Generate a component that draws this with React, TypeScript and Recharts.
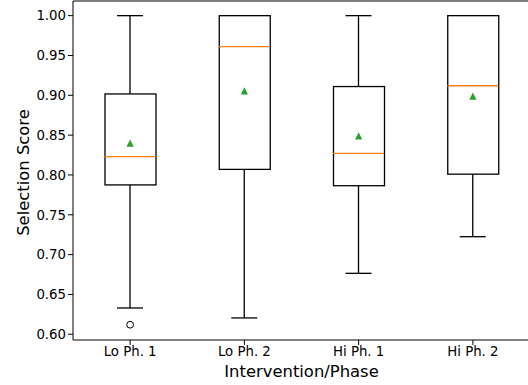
import React from "react";
import { ComposedChart, Bar, Scatter, XAxis, YAxis, Label } from "recharts";

// five-number summaries
const categories = ["Lo Ph. 1", "Lo Ph. 2", "Hi Ph. 1", "Hi Ph. 2"];
const whiskerLow = [0.633, 0.6205, 0.6765, 0.7225];
const q1 = [0.7875, 0.807, 0.7865, 0.801];
const medians = [0.823, 0.961, 0.827, 0.912];
const q3 = [0.9017, 1.0, 0.911, 1.0];
const whiskerHigh = [1.0, 1.0, 1.0, 1.0];
const means = [0.84, 0.9055, 0.849, 0.899];
const outliers: (number | null)[] = [0.612, null, null, null];
const yTicks = [0.6, 0.65, 0.7, 0.75, 0.8, 0.85, 0.9, 0.95, 1.0];

const data = categories.map((name, i) => ({
    name,
    low: whiskerLow[i],
    q1: q1[i],
    median: medians[i],
    q3: q3[i],
    high: whiskerHigh[i],
    mean: means[i],
    outlier: outliers[i],
}));

const BOX_W = 51;
const CAP_W = 26;
const INK = "#000";
const LW = 1.3;
const FONT = "DejaVu Sans, sans-serif";

function WhiskerShape(props: any) {
    const { x, y, width, height } = props;
    const cx = x + width / 2;
    const top = Math.min(y, y + height);
    const bottom = Math.max(y, y + height);
    return (
        <g stroke={INK} strokeWidth={LW}>
            <line x1={cx} x2={cx} y1={top} y2={bottom} />
            <line x1={x} x2={x + width} y1={top} y2={top} />
            <line x1={x} x2={x + width} y1={bottom} y2={bottom} />
        </g>
    );
}

function BoxShape(props: any) {
    const { x, y, width, height } = props;
    const top = Math.min(y, y + height);
    return (
        <rect x={x} y={top} width={width} height={Math.abs(height)} fill="#fff" stroke={INK} strokeWidth={LW} />
    );
}

function MedianShape(props: any) {
    const { cx, cy } = props;
    return <line x1={cx - BOX_W / 2} x2={cx + BOX_W / 2} y1={cy} y2={cy} stroke="#ff7f0e" strokeWidth={LW} />;
}

function MeanShape(props: any) {
    const { cx, cy } = props;
    const s = 3.6;
    return <polygon points={`${cx},${cy - s} ${cx - s},${cy + s} ${cx + s},${cy + s}`} fill="#2ca02c" />;
}

function FlierShape(props: any) {
    const { cx, cy, payload } = props;
    if (payload == null || payload.outlier == null) return <g />;
    return <circle cx={cx} cy={cy} r={3.4} fill="none" stroke={INK} strokeWidth={1} />;
}

function YTitle(props: any) {
    const vb = props.viewBox || { x: 0, y: 0, width: 73, height: 339 };
    const x = vb.x + 29;
    const y = vb.y + vb.height / 2 + 2;
    return (
        <text x={x} y={y} transform={`rotate(-90 ${x} ${y})`} textAnchor="middle" fontSize={16.4} fontFamily={FONT} fill={INK}>
            Selection Score
        </text>
    );
}

export default function App() {
    return (
        <div style={{ position: "absolute", left: 0, top: 0, width: 528, height: 385, overflow: "hidden", background: "#fff" }}>
            <ComposedChart width={540} height={385} data={data} margin={{ top: 0, right: 10, left: 0, bottom: 0 }}>
                <XAxis
                    xAxisId="main"
                    dataKey="name"
                    type="category"
                    height={45}
                    tickSize={5}
                    tickMargin={2}
                    stroke={INK}
                    tick={{ fill: INK, fontSize: 13.3, fontFamily: FONT }}
                    axisLine={{ stroke: INK, strokeWidth: 1 }}
                    tickLine={{ stroke: INK }}
                >
                    <Label value="Intervention/Phase" position="insideBottom" offset={8} fontSize={16.4} fontFamily={FONT} fill={INK} />
                </XAxis>
                <XAxis
                    xAxisId="box"
                    dataKey="name"
                    type="category"
                    orientation="top"
                    height={1}
                    tick={false}
                    tickLine={false}
                    axisLine={{ stroke: INK, strokeWidth: 1 }}
                />
                <YAxis
                    type="number"
                    domain={[0.5928, 1.0184]}
                    allowDataOverflow
                    ticks={yTicks}
                    tickFormatter={(v: number) => v.toFixed(2)}
                    width={73}
                    tickSize={5}
                    tickMargin={2}
                    stroke={INK}
                    tick={{ fill: INK, fontSize: 13.3, fontFamily: FONT }}
                    axisLine={{ stroke: INK, strokeWidth: 1 }}
                    tickLine={{ stroke: INK }}
                    label={<YTitle />}
                />
                <Bar
                    xAxisId="main"
                    dataKey={(d: any) => [d.low, d.high]}
                    barSize={CAP_W}
                    shape={<WhiskerShape />}
                    isAnimationActive={false}
                />
                <Bar
                    xAxisId="box"
                    dataKey={(d: any) => [d.q1, d.q3]}
                    barSize={BOX_W}
                    shape={<BoxShape />}
                    isAnimationActive={false}
                />
                <Scatter xAxisId="main" dataKey="median" shape={<MedianShape />} isAnimationActive={false} />
                <Scatter xAxisId="main" dataKey="mean" shape={<MeanShape />} isAnimationActive={false} />
                <Scatter xAxisId="main" dataKey="outlier" shape={<FlierShape />} isAnimationActive={false} />
            </ComposedChart>
        </div>
    );
}
